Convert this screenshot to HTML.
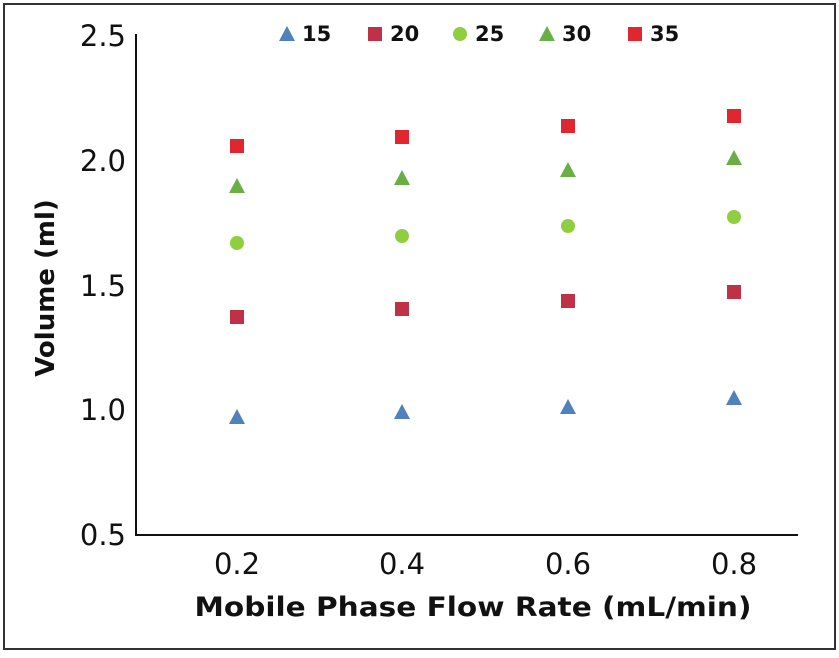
<!DOCTYPE html>
<html><head><style>body{margin:0;background:#fff}</style></head><body>
<svg width="839" height="653" xmlns="http://www.w3.org/2000/svg" font-family="DejaVu Sans, Verdana, sans-serif">
<rect x="4" y="4" width="831" height="645" fill="#fff" stroke="#333" stroke-width="2"/>
<line x1="136" y1="34" x2="136" y2="536" stroke="#111" stroke-width="2"/>
<line x1="135" y1="535" x2="798" y2="535" stroke="#111" stroke-width="2"/>
<g font-size="29" fill="#111" text-anchor="end">
<text x="126" y="46">2.5</text><text x="126" y="171">2.0</text><text x="126" y="296">1.5</text><text x="126" y="420">1.0</text><text x="126" y="545">0.5</text>
</g>
<g font-size="29" fill="#111" text-anchor="middle">
<text x="237" y="574">0.2</text><text x="402" y="574">0.4</text><text x="568" y="574">0.6</text><text x="734" y="574">0.8</text>
</g>
<text x="473" y="616" font-size="27" font-weight="bold" text-anchor="middle" fill="#111" textLength="557" lengthAdjust="spacingAndGlyphs">Mobile Phase Flow Rate (mL/min)</text>
<text transform="translate(54,288) rotate(-90)" font-size="26" font-weight="bold" text-anchor="middle" fill="#111">Volume (ml)</text>
<defs>
<path id="tri" d="M0,-8 L8,7 L-8,7Z"/>
<rect id="sq" x="-7" y="-7" width="14" height="14"/>
<circle id="ci" r="7"/>
</defs>
<g fill="#4f81bd"><use href="#tri" x="237" y="417"/><use href="#tri" x="402" y="412"/><use href="#tri" x="568" y="407"/><use href="#tri" x="734" y="398"/><use href="#tri" x="287" y="34"/></g>
<g fill="#be3147"><use href="#sq" x="237" y="317"/><use href="#sq" x="402" y="309"/><use href="#sq" x="568" y="301"/><use href="#sq" x="734" y="292"/><use href="#sq" x="375" y="34"/></g>
<g fill="#8fcf3f"><use href="#ci" x="237" y="243"/><use href="#ci" x="402" y="236"/><use href="#ci" x="568" y="226"/><use href="#ci" x="734" y="217"/><use href="#ci" x="460" y="34"/></g>
<g fill="#6aaf46"><use href="#tri" x="237" y="186"/><use href="#tri" x="402" y="178"/><use href="#tri" x="568" y="170"/><use href="#tri" x="734" y="158"/><use href="#tri" x="547" y="34"/></g>
<g fill="#e0262e"><use href="#sq" x="237" y="146"/><use href="#sq" x="402" y="137"/><use href="#sq" x="568" y="126"/><use href="#sq" x="734" y="116"/><use href="#sq" x="635" y="34"/></g>
<g font-size="21" font-weight="bold" fill="#111">
<text x="302" y="41">15</text><text x="390" y="41">20</text><text x="475" y="41">25</text><text x="562" y="41">30</text><text x="650" y="41">35</text>
</g>
</svg>
</body></html>
